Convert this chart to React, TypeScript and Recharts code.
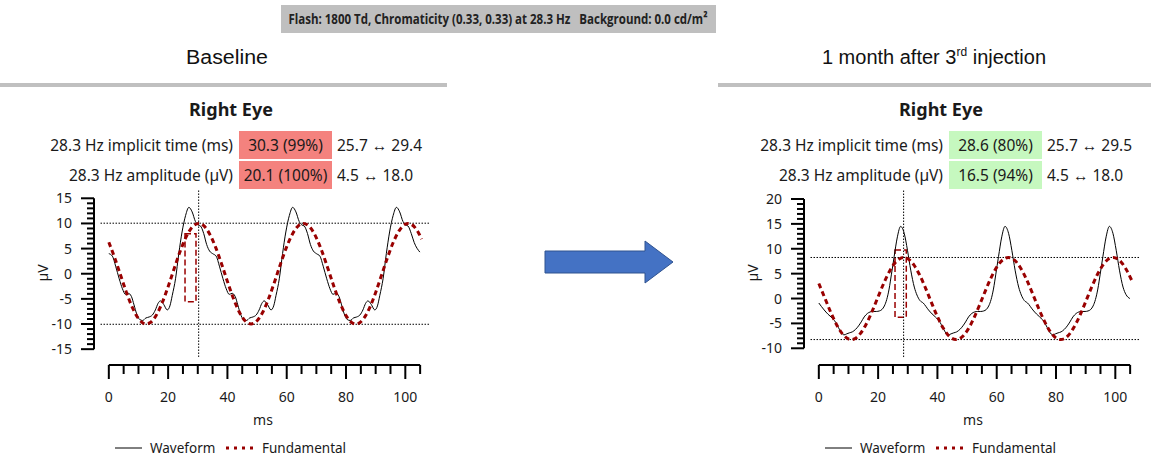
import React from 'react';
import { ComposedChart, Line, XAxis, YAxis, ReferenceLine, ReferenceArea } from 'recharts';

const FONT = '"Noto Sans", sans-serif';
const DARK_RED = '#990000';
const TEXT = '#1a1a1a';

// time axis, ms (minor every 5, labels every 20)
const xTicks = [0, 5, 10, 15, 20, 25, 30, 35, 40, 45, 50, 55, 60, 65, 70, 75, 80, 85, 90, 95, 100, 105];
const xLabels = [0, 20, 40, 60, 80, 100];

const baselineYTicks = [-15, -14, -13, -12, -11, -10, -9, -8, -7, -6, -5, -4, -3, -2, -1, 0, 1, 2, 3, 4, 5, 6, 7, 8, 9, 10, 11, 12, 13, 14, 15];
const followupYTicks = [-10, -9, -8, -7, -6, -5, -4, -3, -2, -1, 0, 1, 2, 3, 4, 5, 6, 7, 8, 9, 10, 11, 12, 13, 14, 15, 16, 17, 18, 19, 20];

// [ms, µV]
const baselineWaveform: [number, number][] = [
  [0, 4.0], [1.2, 3.5], [2.3, 1.5], [3.5, -1.0], [4.6, -3.0], [5.6, -4.1], [6.6, -3.9], [7.6, -4.5], [8.5, -6.2], [9.4, -8.0],
  [10.4, -9.1], [11.4, -9.3], [12.5, -8.8], [13.6, -8.6], [14.7, -8.2], [15.7, -7.2], [16.6, -5.9], [17.4, -5.4], [18.5, -6.1], [19.7, -7.2],
  [20.6, -6.4], [21.4, -4.3], [22.5, -1.0], [23.6, 4.0], [24.7, 8.3], [25.9, 11.6], [27.0, 13.2], [28.1, 12.3], [29.2, 10.4], [30.1, 9.7],
  [30.9, 9.5], [32.0, 8.0], [33.0, 5.8], [34.0, 4.5],
  [35, 4.0], [36.2, 3.5], [37.3, 1.5], [38.5, -1.0], [39.6, -3.0], [40.6, -4.1], [41.6, -3.9], [42.6, -4.5], [43.5, -6.2], [44.4, -8.0],
  [45.4, -9.1], [46.4, -9.3], [47.5, -8.8], [48.6, -8.6], [49.7, -8.2], [50.7, -7.2], [51.6, -5.9], [52.4, -5.4], [53.5, -6.1], [54.7, -7.2],
  [55.6, -6.4], [56.4, -4.3], [57.5, -1.0], [58.6, 4.0], [59.7, 8.3], [60.9, 11.6], [62.0, 13.2], [63.1, 12.3], [64.2, 10.4], [65.1, 9.7],
  [65.9, 9.5], [67.0, 8.0], [68.0, 5.8], [69.0, 4.5],
  [70, 4.0], [71.2, 3.5], [72.3, 1.5], [73.5, -1.0], [74.6, -3.0], [75.6, -4.1], [76.6, -3.9], [77.6, -4.5], [78.5, -6.2], [79.4, -8.0],
  [80.4, -9.1], [81.4, -9.3], [82.5, -8.8], [83.6, -8.6], [84.7, -8.2], [85.7, -7.2], [86.6, -5.9], [87.4, -5.4], [88.5, -6.1], [89.7, -7.2],
  [90.6, -6.4], [91.4, -4.3], [92.5, -1.0], [93.6, 4.0], [94.7, 8.3], [95.9, 11.6], [97.0, 13.2], [98.1, 12.3], [99.2, 10.4], [100.1, 9.7],
  [100.9, 9.5], [102.0, 8.0], [103.0, 6.2], [104.9, 4.3],
];

const baselineFundamental: [number, number][] = [
  [0, 6.25], [2, 3.13], [4, -0.36], [6, -3.82], [8, -6.79], [10, -8.92], [12, -9.94], [12.6, -10], [14, -9.71], [16, -8.26],
  [18, -5.78], [20, -2.57], [22, 0.95], [24, 4.36], [26, 7.22], [28, 9.18], [30.3, 10], [32, 9.55], [34, 7.91], [36, 5.29],
  [38, 2.0], [40, -1.53], [42, -4.88], [44, -7.61], [46, -9.39], [48, -10], [50, -9.35], [52, -7.56], [54, -4.78], [56, -1.43],
  [58, 2.11], [60, 5.38], [62, 7.97], [64, 9.58], [65.6, 10], [68, 9.13], [70, 7.14], [72, 4.26], [74, 0.85], [76, -2.68],
  [78, -5.86], [80, -8.31], [82, -9.73], [83.3, -10], [84, -9.93], [86, -8.88], [88, -6.72], [90, -3.72], [92, -0.26], [94, 3.23],
  [96, 6.34], [98, 8.63], [100, 9.85], [101, 10], [102, 9.84], [104, 8.59], [105.5, 6.9],
];

const followupWaveform: [number, number][] = [
  [0, -0.9], [1.8, -2.3], [3.0, -3.1], [4.1, -3.7], [5.7, -4.8], [6.6, -5.8], [7.4, -6.7], [8.5, -7.3], [9.4, -7.1], [10.3, -6.9],
  [11.3, -6.7], [12.4, -6.2], [13.4, -5.5], [14.3, -4.7], [15.3, -3.7], [16.4, -3.0], [17.3, -2.7], [18.4, -2.6], [19.4, -2.6], [20.4, -2.5],
  [21.3, -2.2], [22.1, -1.5], [22.9, -0.2], [23.7, 1.9], [24.5, 4.9], [25.4, 8.4], [26.5, 12.4], [27.6, 14.5], [28.8, 13.1], [29.9, 9.7],
  [31.0, 5.7], [32.2, 2.3], [33.1, 0.7], [34.1, -0.4],
  [35.2, -0.9], [37.0, -2.3], [38.2, -3.1], [39.3, -3.7], [40.9, -4.8], [41.8, -5.8], [42.6, -6.7], [43.7, -7.3], [44.6, -7.1], [45.5, -6.9],
  [46.5, -6.7], [47.6, -6.2], [48.6, -5.5], [49.5, -4.7], [50.5, -3.7], [51.6, -3.0], [52.5, -2.7], [53.6, -2.6], [54.6, -2.6], [55.6, -2.5],
  [56.5, -2.2], [57.3, -1.5], [58.1, -0.2], [58.9, 1.9], [59.7, 4.9], [60.6, 8.4], [61.7, 12.4], [62.8, 14.5], [64.0, 13.1], [65.1, 9.7],
  [66.2, 5.7], [67.4, 2.3], [68.3, 0.7], [69.3, -0.4],
  [70.4, -0.9], [72.2, -2.3], [73.4, -3.1], [74.5, -3.7], [76.1, -4.8], [77.0, -5.8], [77.8, -6.7], [78.9, -7.3], [79.8, -7.1], [80.7, -6.9],
  [81.7, -6.7], [82.8, -6.2], [83.8, -5.5], [84.7, -4.7], [85.7, -3.7], [86.8, -3.0], [87.7, -2.7], [88.8, -2.6], [89.8, -2.6], [90.8, -2.5],
  [91.7, -2.2], [92.5, -1.5], [93.3, -0.2], [94.1, 1.9], [94.9, 4.9], [95.8, 8.4], [96.9, 12.4], [98.0, 14.5], [99.2, 13.1], [100.3, 9.7],
  [101.4, 5.7], [102.6, 2.3], [103.6, 0.8], [104.9, 0.0],
];

const followupFundamental: [number, number][] = [
  [0, 3.01], [2, 0.14], [4, -2.74], [6, -5.27], [8, -7.15], [10, -8.13], [10.9, -8.25], [12, -8.1], [14, -7.05], [16, -5.12],
  [18, -2.55], [20, 0.35], [22, 3.2], [24, 5.64], [26, 7.38], [28.6, 8.25], [30, 7.99], [32, 6.79], [34, 4.74], [36, 2.08],
  [38, -0.83], [40, -3.64], [42, -5.99], [44, -7.59], [46.3, -8.25], [48, -7.86], [50, -6.51], [52, -4.32], [54, -1.6], [56, 1.3],
  [58, 4.06], [60, 6.31], [62, 7.76], [63.9, 8.25], [66, 7.7], [68, 6.19], [70, 3.91], [72, 1.13], [74, -1.79], [76, -4.46],
  [78, -6.61], [80, -7.92], [81.6, -8.25], [84, -7.51], [86, -5.84], [88, -3.46], [90, -0.65], [92, 2.26], [94, 4.87], [96, 6.89],
  [98, 8.04], [99.3, 8.25], [100, 8.18], [102, 7.3], [104, 5.51], [105.5, 3.7],
];

// measurements shown in the tables
const implicitTimes = [30.3, 28.6];
const amplitudes = [20.1, 16.5];
const timeCells = ['30.3 (99%)', '28.6 (80%)'];
const ampCells = ['20.1 (100%)', '16.5 (94%)'];
const timeRanges = [[25.7, 29.4], [25.7, 29.5]];
const ampRange = [4.5, 18.0];

const toPoints = (rows: [number, number][]) => rows.map(([t, v]) => ({ t, v }));

const XTick = ({ x, y, payload }: any) => {
  const major = xLabels.includes(payload.value);
  return (
    <g>
      <line x1={x} y1={y} x2={x} y2={y + (major ? 14 : 9)} stroke="#000" strokeWidth={2} />
      {major && (
        <text x={x} y={y + 37} textAnchor="middle" fontSize={14} fontFamily={FONT} fill={TEXT}>
          {payload.value}
        </text>
      )}
    </g>
  );
};

const YTick = ({ x, y, payload }: any) => {
  const major = payload.value % 5 === 0;
  return (
    <g>
      <line x1={x} y1={y} x2={x - (major ? 13 : 7)} y2={y} stroke="#000" strokeWidth={2} />
      {major && (
        <text x={x - 22} y={y + 5} textAnchor="end" fontSize={14} fontFamily={FONT} fill={TEXT}>
          {payload.value}
        </text>
      )}
    </g>
  );
};

interface PanelProps {
  left: number;
  waveform: [number, number][];
  fundamental: [number, number][];
  yTicks: number[];
  yDomain: [number, number];
  implicitTime: number;
  amplitude: number;
  timeRange: number[];
}

function Panel({ left, waveform, fundamental, yTicks, yDomain, implicitTime, amplitude, timeRange }: PanelProps) {
  const half = amplitude / 2;
  const dotted = { stroke: '#000', strokeWidth: 1, strokeDasharray: '1.5 1.5', ifOverflow: 'visible' as const };
  return (
    <div style={{ position: 'absolute', left, top: 0 }}>
      <ComposedChart width={440} height={459} margin={{ top: 190, right: 8, bottom: 64, left: 54 }}>
        <XAxis
          type="number"
          dataKey="t"
          domain={[-5, 109]}
          allowDataOverflow
          ticks={xTicks}
          interval={0}
          tickSize={0}
          tickMargin={0}
          axisLine={false}
          tickLine={false}
          tick={<XTick />}
          height={30}
        />
        <YAxis
          type="number"
          domain={yDomain}
          allowDataOverflow
          ticks={yTicks}
          interval={0}
          tickSize={0}
          tickMargin={0}
          axisLine={false}
          tickLine={false}
          tick={<YTick />}
          width={40}
        />
        <ReferenceLine segment={[{ x: 0, y: yDomain[0] }, { x: 105, y: yDomain[0] }]} stroke="#000" strokeWidth={2} ifOverflow="visible" />
        <ReferenceLine segment={[{ x: -5, y: yTicks[0] }, { x: -5, y: yTicks[yTicks.length - 1] }]} stroke="#000" strokeWidth={2} ifOverflow="visible" />
        <ReferenceLine segment={[{ x: -2.8, y: half }, { x: 108.2, y: half }]} {...dotted} />
        <ReferenceLine segment={[{ x: -2.8, y: -half }, { x: 108.2, y: -half }]} {...dotted} />
        <ReferenceLine segment={[{ x: implicitTime, y: yDomain[0] + 1.6 }, { x: implicitTime, y: yDomain[1] }]} {...dotted} />
        <ReferenceArea
          x1={timeRange[0]}
          x2={timeRange[1]}
          y1={-half + ampRange[0]}
          y2={-half + ampRange[1]}
          fill="none"
          stroke={DARK_RED}
          strokeWidth={1.5}
          strokeDasharray="6 3"
          ifOverflow="visible"
        />
        <Line data={toPoints(waveform)} dataKey="v" type="monotone" stroke="#000" strokeWidth={1} dot={false} isAnimationActive={false} />
        <Line
          data={toPoints(fundamental)}
          dataKey="v"
          type="monotone"
          stroke={DARK_RED}
          strokeWidth={3}
          strokeDasharray="5 3.5"
          dot={false}
          isAnimationActive={false}
        />
      </ComposedChart>
    </div>
  );
}

function PanelText({ dx, idx, good }: { dx: number; idx: number; good: boolean }) {
  const fill = good ? '#c6f8bf' : '#f4827e';
  const rows = [
    { label: '28.3 Hz implicit time (ms)', cell: timeCells[idx], range: `${timeRanges[idx][0].toFixed(1)} \u2194 ${timeRanges[idx][1].toFixed(1)}`, y: 131 },
    { label: '28.3 Hz amplitude (\u00b5V)', cell: ampCells[idx], range: `${ampRange[0].toFixed(1)} \u2194 ${ampRange[1].toFixed(1)}`, y: 161 },
  ];
  return (
    <g transform={`translate(${dx},0)`} fontFamily={FONT} fill={TEXT}>
      <text x={231} y={116} textAnchor="middle" fontSize={18} fontWeight="bold">Right Eye</text>
      {rows.map((r) => (
        <g key={r.label}>
          <rect x={239} y={r.y} width={93} height={28} fill={fill} />
          <text x={233} y={r.y + 20} textAnchor="end" fontSize={15.5}>{r.label}</text>
          <text x={285.5} y={r.y + 20} textAnchor="middle" fontSize={15.5}>{r.cell}</text>
          <text x={337} y={r.y + 20} fontSize={15.5}>{r.range}</text>
        </g>
      ))}
      <text x={43} y={273} textAnchor="middle" fontSize={14} transform="rotate(-90 43 273)" dy={5}>µV</text>
      <text x={263} y={425} textAnchor="middle" fontSize={14}>ms</text>
      <line x1={115} y1={448} x2={142} y2={448} stroke="#000" strokeWidth={1} />
      <text x={150} y={453} fontSize={13.5}>Waveform</text>
      <line x1={226} y1={448} x2={254} y2={448} stroke={DARK_RED} strokeWidth={3} strokeDasharray="3 5" />
      <text x={262} y={453} fontSize={13.5}>Fundamental</text>
    </g>
  );
}

export default function App() {
  return (
    <div style={{ position: 'absolute', left: 0, top: 0, width: 1151, height: 459, background: '#fff' }}>
      <svg width={1151} height={459} style={{ position: 'absolute', left: 0, top: 0 }}>
        <rect x={281} y={5} width={435} height={28} fill="#bfbfbf" />
        <text x={498} y={24} textAnchor="middle" fontSize={15} fontWeight="bold" fontFamily='"Open Sans", sans-serif' fill="#222" textLength={419} lengthAdjust="spacingAndGlyphs">
          {'Flash: 1800 Td, Chromaticity (0.33, 0.33) at 28.3 Hz\u00a0\u00a0\u00a0Background: 0.0 cd/m\u00b2'}
        </text>
        <text x={227} y={64} textAnchor="middle" fontSize={20} fontFamily='"Liberation Sans", Arial, sans-serif' fill="#111" textLength={82} lengthAdjust="spacingAndGlyphs">Baseline</text>
        <text x={934} y={64} textAnchor="middle" fontSize={20} fontFamily='"Liberation Sans", Arial, sans-serif' fill="#111">
          1 month after 3<tspan fontSize={12} dy={-8}>rd</tspan><tspan dy={8}> injection</tspan>
        </text>
        <rect x={0} y={83} width={447} height={4} fill="#c0c0c0" />
        <rect x={718} y={83} width={433} height={4} fill="#c0c0c0" />
        <polygon points="545,251 645,251 645,241 673,262 645,283 645,273 545,273" fill="#4472c4" stroke="#2f528f" strokeWidth={1} />
        <PanelText dx={0} idx={0} good={false} />
        <PanelText dx={710} idx={1} good={true} />
      </svg>
      <Panel
        left={0}
        waveform={baselineWaveform}
        fundamental={baselineFundamental}
        yTicks={baselineYTicks}
        yDomain={[-18.15, 16.65]}
        implicitTime={implicitTimes[0]}
        amplitude={amplitudes[0]}
        timeRange={timeRanges[0]}
      />
      <Panel
        left={710}
        waveform={followupWaveform}
        fundamental={followupFundamental}
        yTicks={followupYTicks}
        yDomain={[-13.36, 21.81]}
        implicitTime={implicitTimes[1]}
        amplitude={amplitudes[1]}
        timeRange={timeRanges[1]}
      />
    </div>
  );
}
